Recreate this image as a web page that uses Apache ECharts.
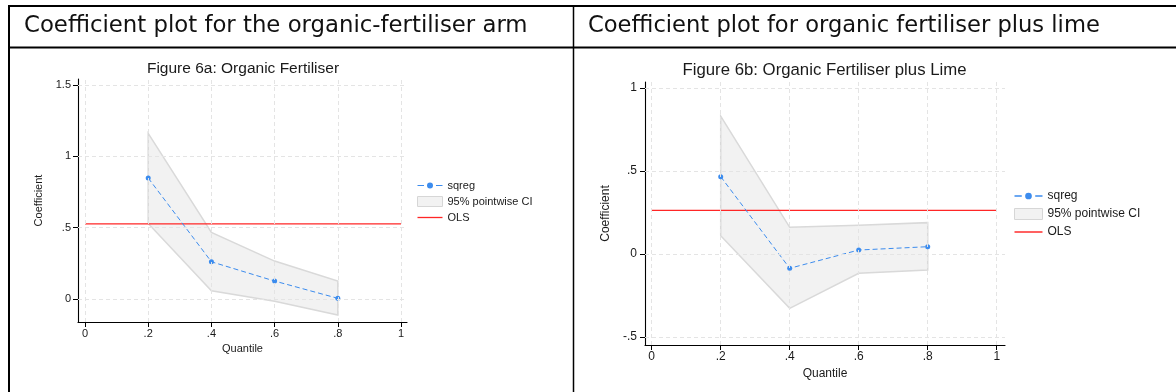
<!DOCTYPE html>
<html><head><meta charset="utf-8">
<script src="https://cdn.jsdelivr.net/npm/echarts@6/dist/echarts.min.js"></script>
<style>html,body{margin:0;padding:0;background:#fff;}#c{width:1176px;height:392px;}</style>
</head><body><div id="c"></div>
<script>
// ---------------- data ----------------
const headers = ['Coefficient plot for the organic-fertiliser arm', 'Coefficient plot for organic fertiliser plus lime'];
const titles = ['Figure 6a: Organic Fertiliser', 'Figure 6b: Organic Fertiliser plus Lime'];
const legendNames = ['sqreg', '95% pointwise CI', 'OLS'];
const xName = 'Quantile';
const yName = 'Coefficient';
const quantiles = [0.2, 0.4, 0.6, 0.8];
const xTicks = [0, 0.2, 0.4, 0.6, 0.8, 1];
// Figure 6a
const sqregA = [0.848, 0.261, 0.126, 0.005];
const ciLowA = [0.530, 0.058, -0.015, -0.112];
const ciHighA = [1.161, 0.467, 0.266, 0.126];
const olsA = 0.526;
const yTicksA = [0, 0.5, 1, 1.5];
// Figure 6b
const sqregB = [0.466, -0.086, 0.024, 0.044];
const ciLowB = [0.110, -0.327, -0.116, -0.096];
const ciHighB = [0.831, 0.161, 0.173, 0.189];
const olsB = 0.263;
const yTicksB = [-0.5, 0, 0.5, 1];

// ---------------- layout / style ----------------
const BLUE = '#3c8cee', RED = '#ff2626', TXT = '#1a1a1a', FONT = 'Liberation Sans, Arial, sans-serif';
const panels = [
  {sq: sqregA, lo: ciLowA, hi: ciHighA, ols: olsA, yTicks: yTicksA,
   grid: {left: 78, top: 79, width: 329, height: 243}, xr: [-0.0222, 1.019], yr: [-0.161, 1.542],
   fs: 11, tfs: 15.5, tc: [243, 69], lg: {left: 417, top: 180, w: 25, h: 10, gap: 5},
   ngx: 20, ngy: 33.5, mx: 6, my: 7},
  {sq: sqregB, lo: ciLowB, hi: ciHighB, ols: olsB, yTicks: yTicksB,
   grid: {left: 645, top: 82, width: 360, height: 263}, xr: [-0.0194, 1.024], yr: [-0.548, 1.036],
   fs: 12, tfs: 16.75, tc: [824.5, 70.5], lg: {left: 1014, top: 190, w: 28, h: 11, gap: 6},
   ngx: 21.5, ngy: 33, mx: 6, my: 8}
];
const headerPos = [{x: 24, w: 504}, {x: 588, w: 512}];
// legend key shapes (dash - dot - dash, and a plain line)
const ICON_SQREG = 'path://M0,4.4h6.5v1.2h-6.5z M18.5,4.4h6.5v1.2h-6.5z M9.5,5a3,3 0 1,0 6,0a3,3 0 1,0 -6,0z';
const ICON_LINE = 'path://M0,0h25v1.3h-25z';

function stataFmt(v) {
  let s = String(Math.round(v * 100) / 100);
  return s.replace(/^(-?)0\./, '$1.');
}
function fitSize(text, family, target) {
  const c = document.createElement('canvas').getContext('2d');
  c.font = '100px ' + family;
  return 100 * target / c.measureText(text).width;
}

const option = {animation: false, grid: [], xAxis: [], yAxis: [], series: [], legend: [], graphic: []};

panels.forEach((p, i) => {
  option.grid.push(Object.assign({containLabel: false}, p.grid));
  const axLine = {show: true, onZero: false, lineStyle: {color: '#000', width: 1.1}};
  option.xAxis.push({
    type: 'value', gridIndex: i, min: p.xr[0], max: p.xr[1],
    axisLine: axLine, splitLine: {show: false},
    axisTick: {show: true, length: 5, customValues: xTicks, lineStyle: {color: '#000'}},
    axisLabel: {customValues: xTicks, formatter: stataFmt, margin: p.mx, fontSize: p.fs, fontFamily: FONT, color: TXT},
    name: xName, nameLocation: 'middle', nameGap: p.ngx,
    nameTextStyle: {fontSize: p.fs, fontFamily: FONT, color: TXT}
  });
  option.yAxis.push({
    type: 'value', gridIndex: i, min: p.yr[0], max: p.yr[1],
    axisLine: axLine, splitLine: {show: false},
    axisTick: {show: true, length: 5, customValues: p.yTicks, lineStyle: {color: '#000'}},
    axisLabel: {customValues: p.yTicks, formatter: stataFmt, margin: p.my, fontSize: p.fs, fontFamily: FONT, color: TXT},
    name: yName, nameLocation: 'middle', nameGap: p.ngy, nameRotate: 90,
    nameTextStyle: {fontSize: p.fs, fontFamily: FONT, color: TXT}
  });
  // grid lines
  option.series.push({
    name: '_grid' + i, type: 'line', xAxisIndex: i, yAxisIndex: i, data: [], silent: true, z: 1,
    markLine: {silent: true, symbol: 'none', label: {show: false}, animation: false,
      lineStyle: {color: '#e4e4e4', type: [4, 3], width: 1},
      emphasis: {disabled: true},
      data: xTicks.map(v => ({xAxis: v})).concat(p.yTicks.map(v => ({yAxis: v})))}
  });
  // CI band
  const lo = p.lo, hi = p.hi;
  option.series.push({
    name: legendNames[1], type: 'custom', xAxisIndex: i, yAxisIndex: i, z: 2,
    data: quantiles.map((q, k) => [q, lo[k], hi[k]]),
    encode: {x: 0, y: [1, 2]},
    itemStyle: {color: '#f2f2f2', borderColor: '#d9d9d9'},
    renderItem: function (params, api) {
      if (params.dataIndex !== 0) return null;
      const pts = [];
      for (let k = 0; k < quantiles.length; k++) pts.push(api.coord([quantiles[k], hi[k]]));
      for (let k = quantiles.length - 1; k >= 0; k--) pts.push(api.coord([quantiles[k], lo[k]]));
      return {type: 'polygon', shape: {points: pts}, style: {fill: '#f2f2f2', stroke: '#d9d9d9', lineWidth: 1.5}};
    }
  });
  // OLS
  option.series.push({
    name: legendNames[2], type: 'line', xAxisIndex: i, yAxisIndex: i, z: 3,
    data: [[xTicks[0], p.ols], [xTicks[xTicks.length - 1], p.ols]],
    symbol: 'none', lineStyle: {color: RED, width: 1.2}, itemStyle: {color: RED}
  });
  // sqreg
  option.series.push({
    name: legendNames[0], type: 'line', xAxisIndex: i, yAxisIndex: i, z: 4,
    data: quantiles.map((q, k) => [q, p.sq[k]]),
    symbol: 'circle', symbolSize: 5,
    lineStyle: {color: BLUE, width: 1, type: [5, 3]}, itemStyle: {color: BLUE}
  });
  option.legend.push({
    orient: 'vertical', left: p.lg.left, top: p.lg.top, itemWidth: p.lg.w, itemHeight: p.lg.h, itemGap: p.lg.gap,
    selectedMode: false, padding: 0, symbolKeepAspect: true,
    textStyle: {fontSize: p.fs, fontFamily: FONT, color: TXT, lineHeight: p.lg.h},
    data: [
      {name: legendNames[0], icon: ICON_SQREG, itemStyle: {color: BLUE}},
      {name: legendNames[1], icon: 'rect', itemStyle: {color: '#f2f2f2', borderColor: '#d6d6d6', borderWidth: 1}},
      {name: legendNames[2], icon: ICON_LINE, itemStyle: {color: RED}}
    ]
  });
  option.graphic.push({
    type: 'text', x: p.tc[0], y: p.tc[1], silent: true,
    style: {text: titles[i], fontSize: p.tfs, fontFamily: FONT, fill: TXT, textAlign: 'center', textVerticalAlign: 'middle'}
  });
});

// table frame
const HF = 'DejaVu Sans';
const lineEl = (x1, y1, x2, y2, w) => ({type: 'line', silent: true, shape: {x1, y1, x2, y2}, style: {stroke: '#000', lineWidth: w}});
option.graphic.push(lineEl(8, 6, 1176, 6, 2));
option.graphic.push(lineEl(8, 47.5, 1176, 47.5, 2));
option.graphic.push(lineEl(9, 5, 9, 392, 2));
option.graphic.push(lineEl(573.5, 5, 573.5, 392, 1.5));
headers.forEach((h, i) => {
  option.graphic.push({
    type: 'text', x: headerPos[i].x, y: 26.5, silent: true,
    style: {text: h, fontSize: fitSize(h, HF, headerPos[i].w), fontFamily: HF, fill: '#111', textAlign: 'left', textVerticalAlign: 'middle'}
  });
});

const chart = echarts.init(document.getElementById('c'), null, {renderer: 'canvas'});
chart.setOption(option);
</script></body></html>
